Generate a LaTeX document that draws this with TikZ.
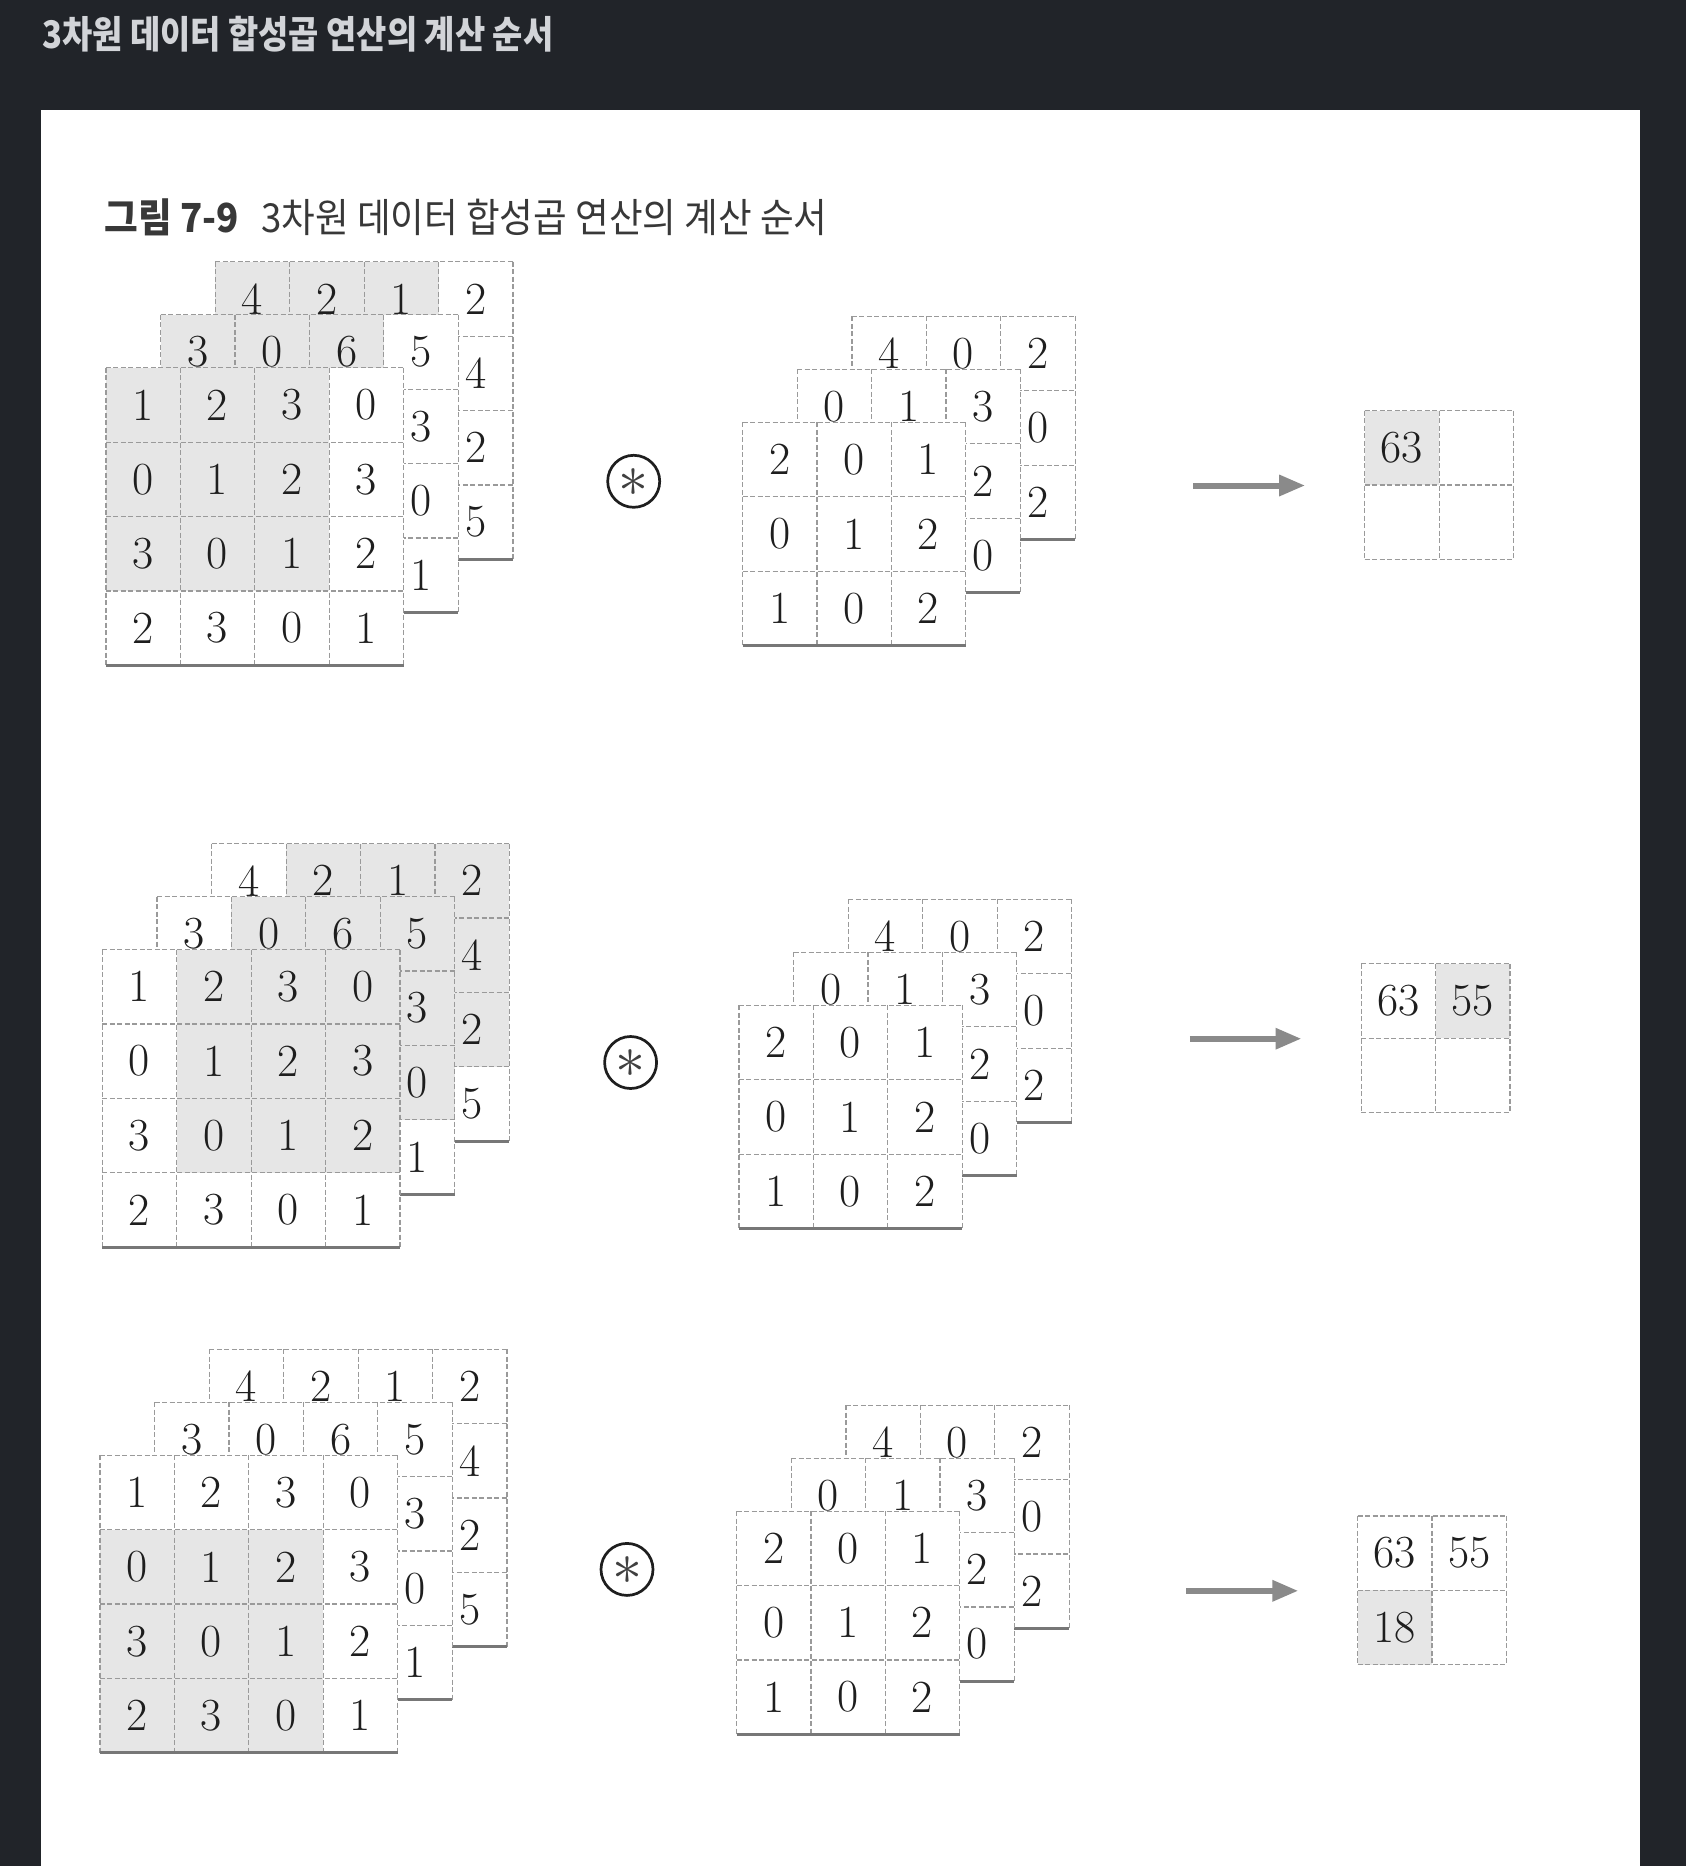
\documentclass[tikz,border=0pt]{standalone}
\usepackage{fix-cm}
\usepackage{fontspec}
\newfontfamily\krfont[FakeStretch=0.915]{Noto Sans CJK KR}
\newfontfamily\krhead[FakeStretch=0.865]{Noto Sans CJK KR}
\usetikzlibrary{arrows.meta}
\definecolor{bgdark}{HTML}{212429}
\definecolor{headgray}{HTML}{D2D4D8}
\definecolor{titlegray}{HTML}{383838}
\definecolor{shadecol}{HTML}{E6E6E6}
\definecolor{gridcol}{HTML}{9A9A9A}
\definecolor{edgecol}{HTML}{777777}
\definecolor{digitcol}{HTML}{1E1E1E}
\definecolor{arrowcol}{HTML}{8A8A8A}
\newcommand\cellsz{74.4}
\tikzset{
  gridline/.style={draw=gridcol, line width=1.2pt, dash pattern=on 5pt off 2.5pt},
  edgeline/.style={draw=edgecol, line width=3pt},
  digit/.style={font=\fontsize{46}{46}\selectfont, text=digitcol, inner sep=0pt},
  opcirc/.style={circle, draw=digitcol, line width=2.7pt, minimum size=52pt, inner sep=0pt},
  startxt/.style={font=\fontsize{60}{60}\selectfont, text=digitcol!85, anchor=base, yshift=-15pt, inner sep=0pt},
  flowarrow/.style={draw=arrowcol, line width=6pt, -{Triangle[length=26pt,width=20pt]}},
  headtxt/.style={font=\krhead\bfseries\fontsize{38}{38}\selectfont, text=headgray, inner sep=0pt},
  titletxt/.style={font=\krfont\fontsize{40}{40}\selectfont, text=titlegray, inner sep=0pt}
}
\newcommand\cellgrid[1]{%
  \foreach \k in {0,...,#1} \draw[gridline] (\k,0) -- (\k,#1);
  \foreach \k in {0,...,#1} \draw[gridline] (0,\k) -- (#1,\k);
}
% #1 x, #2 y, #3 n, #4 shading code, #5 values c/r/v, #6 name prefix
\newcommand\layer[6]{%
  \begin{scope}[shift={(#1,#2)}, x=\cellsz pt, y=-\cellsz pt]
    \fill[white] (0,0) rectangle (#3,#3);
    #4
    \cellgrid{#3}
    \draw[edgeline] (0,#3) -- (#3,#3);
    \foreach \mc/\mr/\mv in {#5} \node[digit] (#6-\mc-\mr) at (\mc+0.5,\mr+0.5) {\mv};
  \end{scope}}
\newcommand\outlayer[5]{%
  \begin{scope}[shift={(#1,#2)}, x=\cellsz pt, y=-\cellsz pt]
    \fill[white] (0,0) rectangle (2,2);
    #3
    \cellgrid{2}
    \foreach \mc/\mr/\mv in {#4} \node[digit] (#5-\mc-\mr) at (\mc+0.5,\mr+0.5) {\mv};
  \end{scope}}
% #1 name, #2 x, #3 y, #4 shade col, #5 shade row
\newcommand\inputblock[5]{%
  \layer{#2+109.4}{#3-106}{4}{\fill[shadecol] (#4,#5) rectangle (#4+3,#5+3);}{0/0/4,1/0/2,2/0/1,3/0/2,3/1/4,3/2/2,3/3/5}{#1b}
  \layer{#2+54.7}{#3-53}{4}{\fill[shadecol] (#4,#5) rectangle (#4+3,#5+3);}{0/0/3,1/0/0,2/0/6,3/0/5,3/1/3,3/2/0,3/3/1}{#1m}
  \layer{#2}{#3}{4}{\fill[shadecol] (#4,#5) rectangle (#4+3,#5+3);}{0/0/1,1/0/2,2/0/3,3/0/0,0/1/0,1/1/1,2/1/2,3/1/3,0/2/3,1/2/0,2/2/1,3/2/2,0/3/2,1/3/3,2/3/0,3/3/1}{#1f}}
\newcommand\filterblock[3]{%
  \layer{#2+109.4}{#3-106}{3}{}{0/0/4,1/0/0,2/0/2,2/1/0,2/2/2}{#1b}
  \layer{#2+54.7}{#3-53}{3}{}{0/0/0,1/0/1,2/0/3,2/1/2,2/2/0}{#1m}
  \layer{#2}{#3}{3}{}{0/0/2,1/0/0,2/0/1,0/1/0,1/1/1,2/1/2,0/2/1,1/2/0,2/2/2}{#1f}}
\begin{document}
\begin{tikzpicture}[x=1pt, y=-1pt]
  \fill[bgdark] (0,0) rectangle (1686,1866);
  \useasboundingbox (0,0) rectangle (1686,1866);
  \fill[white] (40.5,109.5) rectangle (1639.6,1866);
  \node[headtxt, anchor=base west] (head) at (42,48) {3차원 데이터 합성곱 연산의 계산 순서};
  \node[titletxt, anchor=base west] (title) at (104.7,232) {{\bfseries 그림 7-9}\hspace{22pt}3차원 데이터 합성곱 연산의 계산 순서};
  % row 1
  \inputblock{r1i}{105.9}{367.7}{0}{0}
  \node[opcirc] (op1) at (633.7,481.3) {};
  \node[startxt] (op1s) at (op1.center) {$\ast$};
  \filterblock{r1f}{742.5}{422.4}
  \coordinate (a1s) at (1193.4,485.5);
  \coordinate (a1e) at (1305.2,485.5);
  \draw[flowarrow] (a1s) -- (a1e);
  \outlayer{1364.7}{410.5}{\fill[shadecol] (0,0) rectangle (1,1);}{0/0/63}{r1o}
  % row 2
  \inputblock{r2i}{102.3}{949.5}{1}{0}
  \node[opcirc] (op2) at (630.6,1062.5) {};
  \node[startxt] (op2s) at (op2.center) {$\ast$};
  \filterblock{r2f}{738.9}{1005.4}
  \coordinate (a2s) at (1189.8,1038.7);
  \coordinate (a2e) at (1301.5,1038.7);
  \draw[flowarrow] (a2s) -- (a2e);
  \outlayer{1361.1}{963.8}{\fill[shadecol] (1,0) rectangle (2,1);}{0/0/63,1/0/55}{r2o}
  % row 3
  \inputblock{r3i}{99.9}{1455.2}{0}{1}
  \node[opcirc] (op3) at (627.0,1569.4) {};
  \node[startxt] (op3s) at (op3.center) {$\ast$};
  \filterblock{r3f}{736.5}{1511.1}
  \coordinate (a3s) at (1186.3,1590.8);
  \coordinate (a3e) at (1298.4,1590.8);
  \draw[flowarrow] (a3s) -- (a3e);
  \outlayer{1357.6}{1515.9}{\fill[shadecol] (0,1) rectangle (1,2);}{0/0/63,1/0/55,0/1/18}{r3o}
\end{tikzpicture}
\end{document}
